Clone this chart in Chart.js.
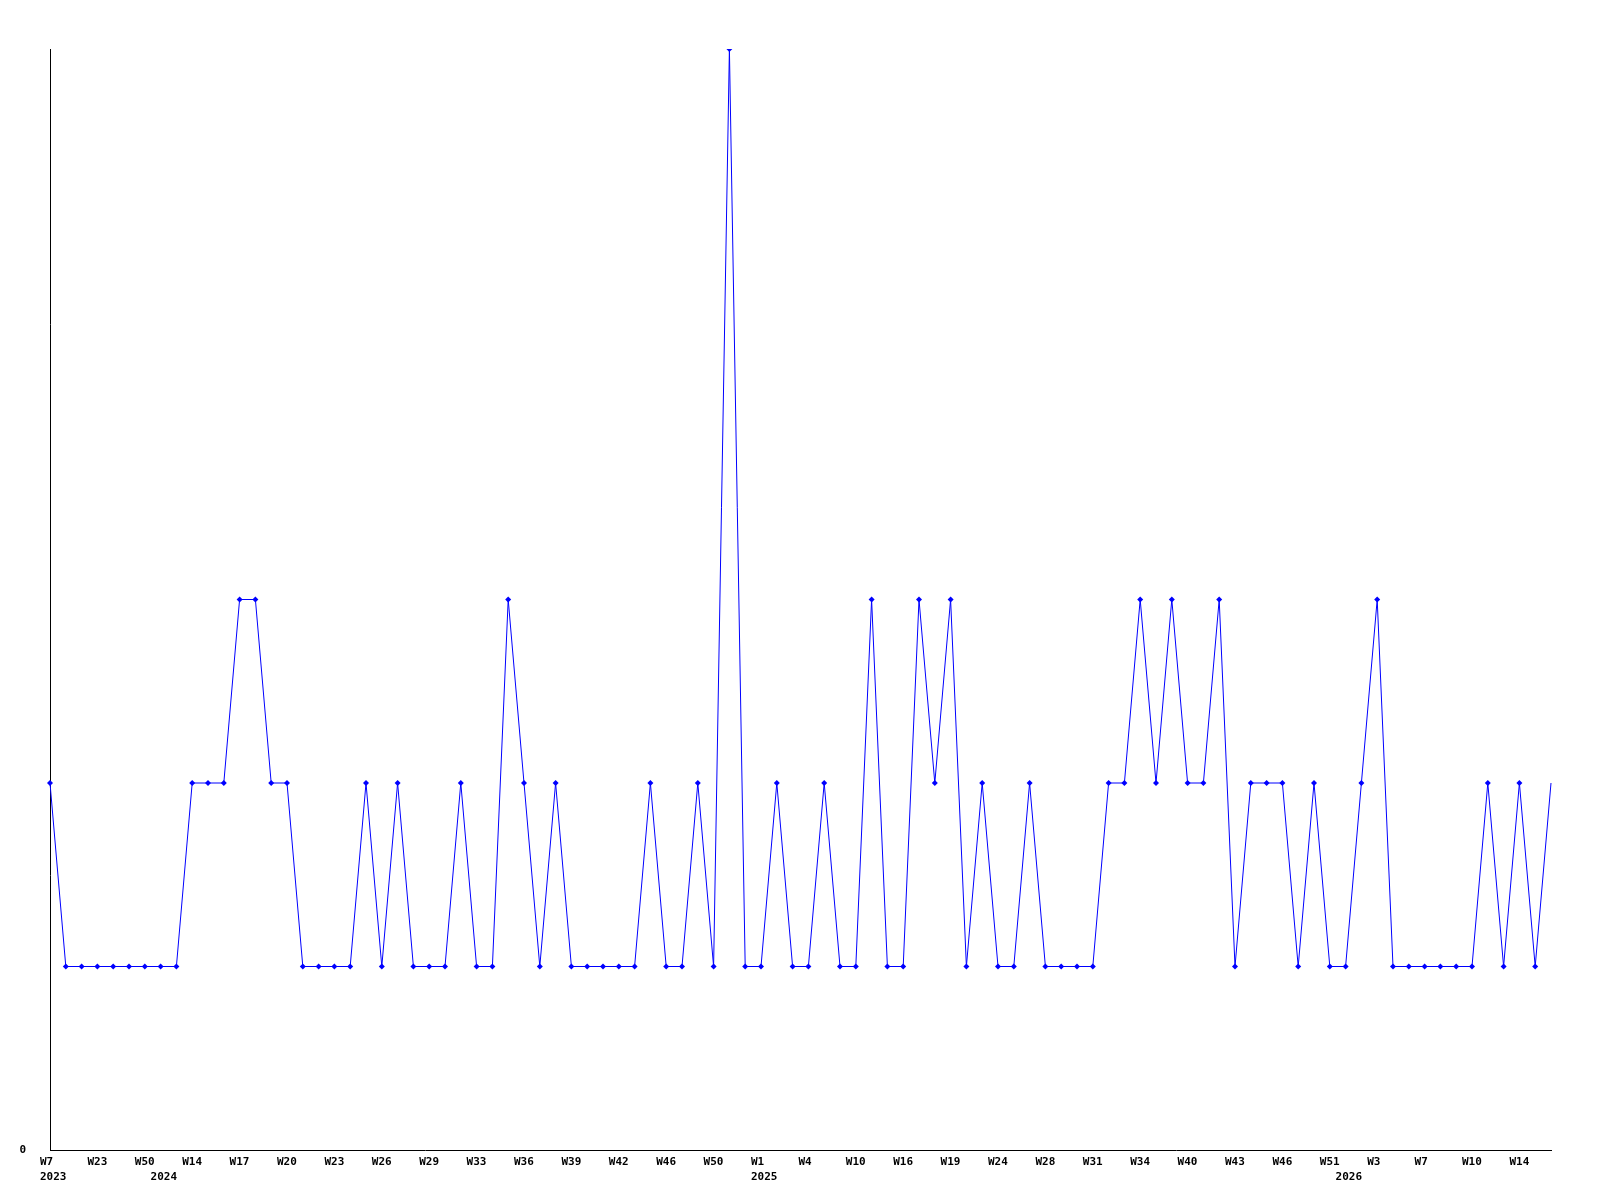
<!DOCTYPE html>
<html lang="en">
<head>
    <meta charset="UTF-8">
    <title>Weekly counts</title>
    <style>
        body, html {
            margin: 0;
            padding: 0;
            background-color: #ffffff;
        }
        .chart-container {
            position: relative;
            width: 1600px;
            height: 1200px;
        }
    </style>
</head>
<body>
    <div class="chart-container">
        <canvas id="weekChart"></canvas>
    </div>

    <script src="https://cdn.jsdelivr.net/npm/chart.js"></script>
    <script>
        // week labels shown on the axis, one on every third point
        const weekTicks = ['W7', 'W23', 'W50', 'W14', 'W17', 'W20', 'W23', 'W26', 'W29', 'W33', 'W36',
            'W39', 'W42', 'W46', 'W50', 'W1', 'W4', 'W10', 'W16', 'W19', 'W24', 'W28', 'W31',
            'W34', 'W40', 'W43', 'W46', 'W51', 'W3', 'W7', 'W10', 'W14'];

        // year labels and the point where each year starts
        const yearNames = ['2023', '2024', '2025', '2026'];
        const yearStart = [0, 7, 45, 82];

        // one value per point
        const counts = [
            2, 1, 1, 1, 1, 1, 1, 1, 1, 2, 2, 2, 3, 3, 2, 2, 1, 1, 1, 1,
            2, 1, 2, 1, 1, 1, 2, 1, 1, 3, 2, 1, 2, 1, 1, 1, 1, 1, 2, 1,
            1, 2, 1, 6, 1, 1, 2, 1, 1, 2, 1, 1, 3, 1, 1, 3, 2, 3, 1, 2,
            1, 1, 2, 1, 1, 1, 1, 2, 2, 3, 2, 3, 2, 2, 3, 1, 2, 2, 2, 1,
            2, 1, 1, 2, 3, 1, 1, 1, 1, 1, 1, 2, 1, 2, 1, 2
        ];

        const labels = counts.map((_, i) => i % 3 === 0 ? weekTicks[i / 3] : '');
        const axisFont = { family: '"DejaVu Sans Mono", monospace', size: 11, weight: 'bold', lineHeight: '15px' };

        const ctx = document.getElementById('weekChart').getContext('2d');
        const weekChart = new Chart(ctx, {
            type: 'line',
            data: {
                labels: labels,
                datasets: [{
                    data: counts,
                    borderColor: '#0000ff',
                    backgroundColor: '#0000ff',
                    borderWidth: 1,
                    fill: false,
                    tension: 0,
                    pointStyle: 'rectRot',
                    pointRadius: c => c.dataIndex === counts.length - 1 ? 0 : 3,
                    pointBorderWidth: 0
                }]
            },
            options: {
                responsive: true,
                maintainAspectRatio: false,
                animation: false,
                layout: {
                    padding: { top: 49, right: 49, left: 0, bottom: 0 }
                },
                scales: {
                    x: {
                        offset: false,
                        grid: { display: false, drawTicks: false },
                        border: { display: true, color: '#000000', width: 1 },
                        afterFit: s => { s.height = 50; },
                        ticks: {
                            autoSkip: false,
                            maxRotation: 0,
                            minRotation: 0,
                            align: 'start',
                            labelOffset: -10,
                            padding: 5,
                            color: '#000000',
                            font: axisFont,
                            callback: function(value, index) {
                                const week = labels[index];
                                const y = yearStart.indexOf(index);
                                if (y >= 0) return [week, yearNames[y]];
                                return week;
                            }
                        }
                    },
                    y: {
                        min: 0,
                        max: 6,
                        grid: { display: false, drawTicks: false },
                        border: { display: true, color: '#000000', width: 1 },
                        afterFit: s => { s.width = 50; },
                        ticks: {
                            stepSize: 6,
                            padding: 24,
                            color: '#000000',
                            font: axisFont,
                            callback: v => v === 0 ? '0' : ''
                        }
                    }
                },
                plugins: {
                    legend: { display: false },
                    tooltip: { enabled: false }
                }
            }
        });
    </script>
</body>
</html>
